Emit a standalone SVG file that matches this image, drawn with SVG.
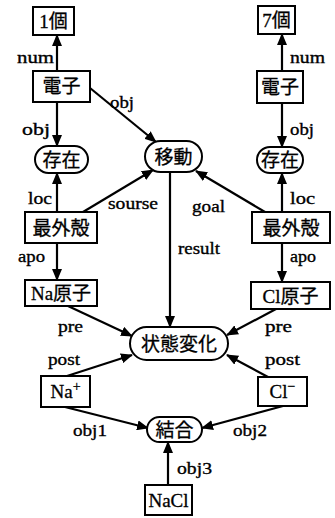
<svg xmlns="http://www.w3.org/2000/svg" width="335" height="518" viewBox="0 0 335 518">
<style>
.box{fill:#fff;stroke:#000;stroke-width:2}
.nt{font-family:"Liberation Serif","Noto Sans CJK JP",serif;font-size:19px;text-anchor:middle;fill:#000;stroke:#000;stroke-width:0.3}
.lb{font-family:"Liberation Serif",serif;font-size:17px;fill:#000;stroke:#000;stroke-width:0.35}
.ln{stroke:#000;stroke-width:2.2;fill:none;marker-end:url(#ah)}
</style>
<defs>
<marker id="ah" markerUnits="userSpaceOnUse" markerWidth="12" markerHeight="10" refX="11" refY="5" orient="auto">
<path d="M0,0 L12,5 L0,10 z" fill="#000"/>
</marker>
</defs>
<rect width="335" height="518" fill="#fff"/>
<g id="connectors">
<line class="ln" x1="57" y1="71" x2="57" y2="35"/>
<line class="ln" x1="57" y1="102" x2="57" y2="146"/>
<line class="ln" x1="57" y1="212" x2="57" y2="173"/>
<line class="ln" x1="57" y1="243" x2="57" y2="280"/>
<line class="ln" x1="90" y1="88" x2="156" y2="142"/>
<line class="ln" x1="83" y1="212" x2="153" y2="170"/>
<line class="ln" x1="170" y1="172" x2="170" y2="327"/>
<line class="ln" x1="265" y1="212" x2="196" y2="171"/>
<line class="ln" x1="282" y1="71" x2="282" y2="34"/>
<line class="ln" x1="282" y1="103" x2="282" y2="147"/>
<line class="ln" x1="282" y1="212" x2="282" y2="173"/>
<line class="ln" x1="282" y1="243" x2="282" y2="282"/>
<line class="ln" x1="68" y1="306" x2="132" y2="336"/>
<line class="ln" x1="67" y1="376" x2="132" y2="355"/>
<line class="ln" x1="276" y1="309" x2="227" y2="335"/>
<line class="ln" x1="268" y1="377" x2="227" y2="355"/>
<line class="ln" x1="65" y1="407" x2="148" y2="428"/>
<line class="ln" x1="283" y1="406" x2="202" y2="428"/>
<line class="ln" x1="168" y1="485" x2="168" y2="442"/>
<text class="lb" x="17" y="63" textLength="37" lengthAdjust="spacingAndGlyphs">num</text>
<text class="lb" x="22" y="135" textLength="28" lengthAdjust="spacingAndGlyphs">obj</text>
<text class="lb" x="110" y="108" textLength="24" lengthAdjust="spacingAndGlyphs">obj</text>
<text class="lb" x="28" y="204" textLength="24" lengthAdjust="spacingAndGlyphs">loc</text>
<text class="lb" x="108" y="209" textLength="50" lengthAdjust="spacingAndGlyphs">sourse</text>
<text class="lb" x="18" y="262" textLength="27" lengthAdjust="spacingAndGlyphs">apo</text>
<text class="lb" x="192" y="212" textLength="33" lengthAdjust="spacingAndGlyphs">goal</text>
<text class="lb" x="178" y="254" textLength="42" lengthAdjust="spacingAndGlyphs">result</text>
<text class="lb" x="290" y="63" textLength="35" lengthAdjust="spacingAndGlyphs">num</text>
<text class="lb" x="290" y="135" textLength="24" lengthAdjust="spacingAndGlyphs">obj</text>
<text class="lb" x="290" y="204" textLength="25" lengthAdjust="spacingAndGlyphs">loc</text>
<text class="lb" x="290" y="262" textLength="26" lengthAdjust="spacingAndGlyphs">apo</text>
<text class="lb" x="58" y="332" textLength="25" lengthAdjust="spacingAndGlyphs">pre</text>
<text class="lb" x="48" y="365" textLength="32" lengthAdjust="spacingAndGlyphs">post</text>
<text class="lb" x="73" y="436" textLength="34" lengthAdjust="spacingAndGlyphs">obj1</text>
<text class="lb" x="265" y="332" textLength="27" lengthAdjust="spacingAndGlyphs">pre</text>
<text class="lb" x="265" y="365" textLength="35" lengthAdjust="spacingAndGlyphs">post</text>
<text class="lb" x="233" y="436" textLength="34" lengthAdjust="spacingAndGlyphs">obj2</text>
<text class="lb" x="177" y="474" textLength="35" lengthAdjust="spacingAndGlyphs">obj3</text>
</g>
<g id="n1ko"><rect class="box" x="33" y="7" width="41" height="28"/><text class="nt" x="53.5" y="28">1個</text></g>
<g id="denshiL"><rect class="box" x="33" y="71" width="57" height="31"/><text class="nt" x="61.5" y="93">電子</text></g>
<g id="sonzaiL"><rect class="box" x="35" y="146" width="53" height="27" rx="13.5"/><text class="nt" x="61.5" y="166.5">存在</text></g>
<g id="saigaikakuL"><rect class="box" x="25" y="212" width="72" height="31"/><text class="nt" x="61" y="234.5">最外殻</text></g>
<g id="Nagenshi"><rect class="box" x="25" y="280" width="72" height="26"/><text class="nt" x="61" y="300">Na原子</text></g>
<g id="Naplus"><rect class="box" x="41" y="376" width="49" height="31"/><text class="nt" x="65.5" y="398">Na<tspan font-size="14" dy="-7">+</tspan></text></g>
<g id="idou"><rect class="box" x="145" y="141" width="57" height="31" rx="15.5"/><text class="nt" x="173.5" y="163.5">移動</text></g>
<g id="joutaihenka"><rect class="box" x="130" y="327" width="98" height="33" rx="16.5"/><text class="nt" x="179" y="350.5">状態変化</text></g>
<g id="ketsugou"><rect class="box" x="147" y="417" width="55" height="25" rx="12.5"/><text class="nt" x="174.5" y="436.5">結合</text></g>
<g id="NaCl"><rect class="box" x="145" y="485" width="47" height="30"/><text class="nt" x="168.5" y="506.5">NaCl</text></g>
<g id="n7ko"><rect class="box" x="258" y="6" width="37" height="28"/><text class="nt" x="276.5" y="27">7個</text></g>
<g id="denshiR"><rect class="box" x="257" y="71" width="46" height="32"/><text class="nt" x="280" y="94">電子</text></g>
<g id="sonzaiR"><rect class="box" x="257" y="147" width="46" height="26" rx="13"/><text class="nt" x="280" y="167">存在</text></g>
<g id="saigaikakuR"><rect class="box" x="252" y="212" width="78" height="31"/><text class="nt" x="291" y="234.5">最外殻</text></g>
<g id="Clgenshi"><rect class="box" x="251" y="282" width="79" height="27"/><text class="nt" x="290.5" y="302.5">Cl原子</text></g>
<g id="Clminus"><rect class="box" x="258" y="377" width="49" height="29"/><text class="nt" x="282.5" y="398">Cl<tspan font-size="14" dy="-7">−</tspan></text></g>
</svg>
